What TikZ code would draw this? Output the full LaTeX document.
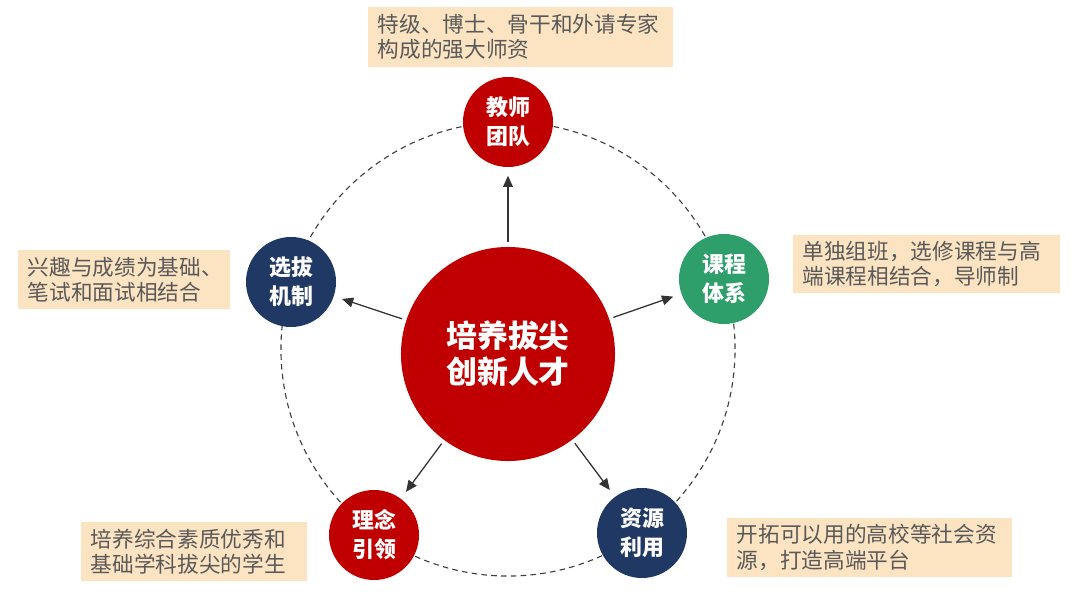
\documentclass[tikz,border=0pt]{standalone}
\usepackage{fontspec}
\setmainfont{Noto Sans CJK SC}
\usepackage{xcolor}
\usetikzlibrary{arrows.meta}

\definecolor{hubred}{HTML}{C00000}
\definecolor{navy}{HTML}{203864}
\definecolor{leaf}{HTML}{2E9E6A}
\definecolor{notefill}{HTML}{FCE4C3}
\definecolor{notetext}{HTML}{595959}

\tikzset{
    hub/.style={circle, fill=hubred, text=white, minimum size=5.35cm, inner sep=0pt,
        align=center, font={\fontsize{22}{25.6}\selectfont\bfseries}},
    topic/.style={circle, fill=#1, text=white, minimum size=2.25cm, inner sep=0pt,
        align=center, font={\fontsize{15.6}{20.6}\selectfont\bfseries}},
    note/.style={fill=notefill, text=notetext, inner xsep=7pt, inner ysep=0pt,
        align=left, font={\fontsize{15.4}{17.8}\selectfont}},
    arr/.style={-{Triangle[length=8pt,width=7pt]}, line width=0.9pt, draw=black!80,
        shorten <=3pt, shorten >=6pt}
}

\begin{document}
\begin{tikzpicture}[x=0.025cm, y=-0.025cm]
    \useasboundingbox (0,0) rectangle (1080,602);

    % Ring
    \draw[dashed, dash pattern=on 4pt off 3pt, line width=0.8pt, black!75] (508,349) circle[radius=5.675cm];

    % Nodes
    \node[hub] (hub) at (508,354) {培养拔尖\\创新人才};
    \node[topic=hubred] (teach) at (508,122) {教师\\团队};
    \node[topic=leaf] (course) at (724,279) {课程\\体系};
    \node[topic=navy] (select) at (291,282) {选拔\\机制};
    \node[topic=hubred] (idea) at (374,535) {理念\\引领};
    \node[topic=navy] (resource) at (642,533) {资源\\利用};

    % Notes
    \node[note, text width=7.125cm, minimum height=1.5cm] (teachnote) at (520.5,37) {特级、博士、骨干和外请专家\\构成的强大师资};
    \node[note, text width=6.2cm, minimum height=1.45cm] (coursenote) at (926.5,264) {单独组班，选修课程与高\\端课程相结合，导师制};
    \node[note, text width=4.8cm, minimum height=1.475cm] (selectnote) at (124,279.5) {兴趣与成绩为基础、\\笔试和面试相结合};
    \node[note, text width=5.15cm, minimum height=1.475cm] (ideanote) at (194,551.5) {培养综合素质优秀和\\基础学科拔尖的学生};
    \node[note, text width=6.625cm, minimum height=1.475cm] (resourcenote) at (869.5,547.5) {开拓可以用的高校等社会资\\源，打造高端平台};

    % Edges
    \draw[arr] (hub) -- (teach);
    \draw[arr] (hub) -- (course);
    \draw[arr] (hub) -- (select);
    \draw[arr] (hub) -- (idea);
    \draw[arr] (hub) -- (resource);
\end{tikzpicture}
\end{document}
